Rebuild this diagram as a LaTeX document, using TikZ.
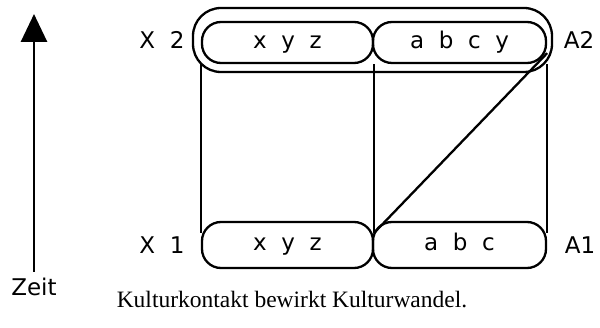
\documentclass[tikz,border=0pt]{standalone}
\usepackage{fontspec}
\usetikzlibrary{arrows.meta,calc}
\newfontfamily\labfont[WordSpace=2.0]{DejaVu Sans}
\newfontfamily\capfont{Liberation Serif}
\begin{document}
\begin{tikzpicture}[x=1pt,y=-1pt,
  lens/.style={draw, line width=2.3pt, rounded corners=19pt, inner sep=0pt,
    text height=17pt, text depth=5pt,
    font=\labfont\fontsize{23}{26}\selectfont},
  lbl/.style={font=\labfont\fontsize{23}{26}\selectfont, inner sep=0pt},
  conn/.style={line width=2.3pt}]
\useasboundingbox (0,0) rectangle (600,328);
% time arrow
\coordinate (tbase) at (34,272);
\coordinate (ttip) at (34,14);
\draw[line width=2.8pt, -{Triangle[width=26pt,length=28pt]}] (tbase) -- (ttip);
\node[lbl] (zeit) at (34,287) {Zeit};
% outer loop
\node[draw, line width=2.3pt, rounded corners=28pt, minimum width=359pt, minimum height=64pt, inner sep=0pt] (outer) at (372.5,40) {};
% top ellipses
\node[lens, minimum width=171pt, minimum height=41pt] (tl) at (287.5,42.5) {x y z};
\node[lens, minimum width=173pt, minimum height=41pt] (tr) at (459.5,42.5) {a b c y};
% bottom ellipses
\node[lens, minimum width=171pt, minimum height=46pt] (bl) at (287.5,245) {x y z};
\node[lens, minimum width=173pt, minimum height=46pt] (br) at (459.5,245) {a b c};
% labels
\node[lbl] (x2) at (162,40) {X 2};
\node[lbl] (x1) at (162,245) {X 1};
\node[lbl] (a2) at (579,40) {A2};
\node[lbl] (a1) at (580,245) {A1};
% connectors
\coordinate (blt) at ($(bl.north west)+(0,12)$);
\coordinate (bmt) at ($(bl.north east)+(0,12)$);
\coordinate (brt) at ($(br.north east)+(0,12)$);
\coordinate (trd) at ($(tr.south east)+(0,-11)$);
\draw[conn] (tl.south west) -- (blt);
\draw[conn] (tl.south east) -- (bmt);
\draw[conn] (tr.south east) -- (brt);
\draw[conn] (bmt) -- (trd);
% caption
\node[font=\capfont\fontsize{23.5}{26}\selectfont, inner sep=0pt] (cap) at (292,300) {Kulturkontakt bewirkt Kulturwandel.};
\end{tikzpicture}
\end{document}
